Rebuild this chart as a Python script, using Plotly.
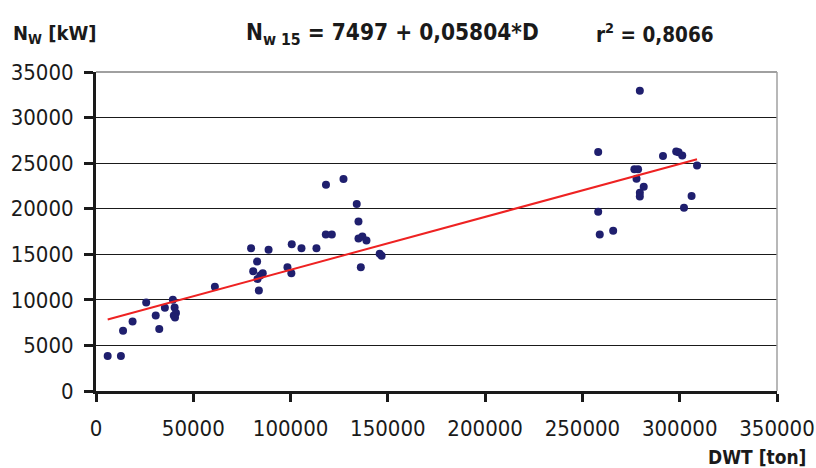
import plotly.graph_objects as go

# Data: DWT [ton] vs N_w [kW]
dwt = [6000, 12800, 13900, 18800, 25800, 30700, 32500, 35400, 39500, 40400,
       41100, 40000, 40600, 61100, 79700, 82800, 80800, 85700, 84400, 83000,
       83700, 88700, 98400, 100400, 100600, 105600, 113300, 118200, 118100, 121200,
       127200, 134000, 134900, 134900, 136900, 139000, 136100, 145800, 146800,
       279500, 258100, 258100, 258900, 265800, 291400, 298200, 299400, 301300,
       308900, 276700, 278600, 277800, 281500, 279500, 279500, 306100, 302200]
power = [3850, 3850, 6600, 7630, 9720, 8290, 6790, 9140, 10000, 9170,
         8550, 8290, 8070, 11450, 15660, 14200, 13130, 12910, 12660, 12290,
         11040, 15490, 13570, 12910, 16100, 15660, 15660, 22640, 17170, 17170,
         23260, 20510, 18600, 16730, 16950, 16510, 13570, 15050, 14830,
         32940, 26230, 19670, 17170, 17580, 25790, 26270, 26190, 25830,
         24730, 24320, 24320, 23300, 22420, 21760, 21350, 21390, 20110]

# Regression: N_w15 = 7497 + 0.05804 * D
intercept = 7497
slope = 0.05804
x_tick_vals = [0, 50000, 100000, 150000, 200000, 250000, 300000, 350000]
y_tick_vals = [0, 5000, 10000, 15000, 20000, 25000, 30000, 35000]

fit_x = [min(dwt), max(dwt)]
fit_y = [intercept + slope * v for v in fit_x]

NARROW = "Liberation Sans Narrow, Arial Narrow, DejaVu Sans Condensed, Liberation Sans, Arial, sans-serif"

fig = go.Figure()
fig.add_trace(go.Scatter(x=dwt, y=power, mode="markers",
                         marker=dict(color="#1F1F6E", size=8, line=dict(width=0)),
                         showlegend=False, cliponaxis=False))
fig.add_trace(go.Scatter(x=fit_x, y=fit_y, mode="lines",
                         line=dict(color="#EE2222", width=2),
                         showlegend=False))

fig.update_layout(
    width=816, height=468,
    margin=dict(l=96, r=39, t=72, b=77, autoexpand=False),
    paper_bgcolor="white", plot_bgcolor="white",
    font=dict(family=NARROW, color="#1a1a1a", size=22),
    xaxis=dict(range=[0, 350000], tickvals=x_tick_vals,
               ticktext=[str(v) for v in x_tick_vals],
               showgrid=False, zeroline=False, automargin=False,
               showline=True, linecolor="#1a1a1a", linewidth=3,
               ticks="outside", ticklen=8, tickwidth=3, tickcolor="#1a1a1a",
               tickfont=dict(size=22), ticklabelstandoff=8),
    yaxis=dict(range=[0, 35000], tickvals=y_tick_vals,
               ticktext=[str(v) for v in y_tick_vals],
               showgrid=True, gridcolor="#1a1a1a", gridwidth=1.2,
               zeroline=False, automargin=False,
               showline=True, linecolor="#1a1a1a", linewidth=3,
               ticks="outside", ticklen=9, tickwidth=3, tickcolor="#1a1a1a",
               tickfont=dict(size=22), ticklabelstandoff=6),
    shapes=[
        dict(type="line", xref="paper", yref="paper", x0=0, x1=1, y0=1, y1=1,
             line=dict(color="#a0a0a0", width=2), layer="above"),
        dict(type="line", xref="paper", yref="paper", x0=1, x1=1, y0=0, y1=1,
             line=dict(color="#a0a0a0", width=1.5), layer="above"),
    ],
    annotations=[
        dict(text="<b>N<sub>W</sub> [kW]</b>", xref="paper", yref="paper",
             x=-0.125, y=1.12, xanchor="left", yanchor="middle",
             showarrow=False, font=dict(size=20, family=NARROW)),
        dict(text="<b>N<sub>w 15</sub> = 7497 + 0,05804*D</b>", xref="paper", yref="paper",
             x=0.217, y=1.12, xanchor="left", yanchor="middle",
             showarrow=False, font=dict(size=22.5, family=NARROW)),
        dict(text="<b>r<sup>2</sup> = 0,8066</b>", xref="paper", yref="paper",
             x=0.732, y=1.12, xanchor="left", yanchor="middle",
             showarrow=False, font=dict(size=20.5, family=NARROW)),
        dict(text="<b>DWT [ton]</b>", xref="paper", yref="paper",
             x=1.0455, y=-0.208, xanchor="right", yanchor="middle",
             showarrow=False, font=dict(size=19, family=NARROW)),
    ],
)

fig.write_html("out.html")
